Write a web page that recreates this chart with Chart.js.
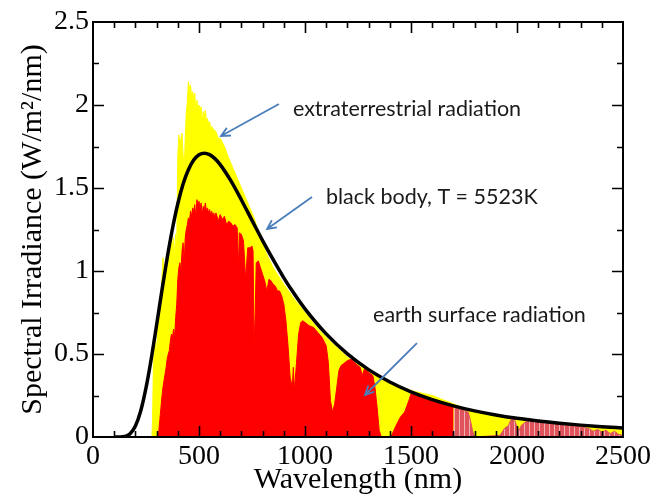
<!DOCTYPE html>
<html><head><meta charset="utf-8">
<script src="https://cdn.jsdelivr.net/npm/chart.js@4/dist/chart.umd.min.js"></script>
<style>html,body{margin:0;padding:0;background:#fff}#wrap{width:658px;height:496px}</style>
</head><body><div id="wrap"><canvas id="c" width="658" height="496"></canvas></div>
<script>
// ---- data ----
const bbWavelength = [100,125,150,175,200,225,250,275,300,325,350,375,400,425,450,475,500,525,550,575,600,650,700,750,800,850,900,950,1000,1100,1200,1300,1400,1500,1600,1700,1800,1900,2000,2100,2200,2300,2400,2500];
const bbIrradiance = [0,0.0003,0.0036,0.0202,0.0667,0.157,0.2955,0.473,0.675,0.882,1.08,1.256,1.405,1.524,1.61,1.668,1.7,1.71,1.701,1.677,1.641,1.544,1.428,1.305,1.183,1.068,0.959,0.861,0.772,0.621,0.501,0.406,0.3315,0.2725,0.2253,0.1877,0.1575,0.1329,0.1129,0.0964,0.0828,0.0715,0.0619,0.054];

const etWavelength = [278,281,285,290,295,300,305,310,315,320,325,330,335,340,345,350,355,360,365,370,375,380,385,390,395,400,405,410,415,420,425,430,435,440,445,450,455,460,465,470,475,480,485,490,495,500,505,510,515,520,525,530,535,540,545,550,555,560,570,580,590,600,620,640,660,680,700,720,740,760,780,800,820,850,880,900,950,1000,1050,1100,1150,1200,1250,1300,1350,1400,1450,1500,1550,1600,1650,1700,1750,1800,1850,1900,1950,2000,2100,2200,2300,2400,2500];
const etIrradiance = [0,0.1,0.45,0.52,0.58,0.5,0.65,0.7,0.78,0.85,0.95,1.08,1.0,1.02,1.0,1.05,1.1,1.05,1.15,1.22,1.15,1.2,1.08,1.22,1.15,1.7,1.82,1.75,1.8,1.83,1.7,1.6,1.8,1.95,2.02,2.14,2.1,2.12,2.05,2.08,2.04,2.07,1.95,2.03,1.98,2.0,1.97,1.99,1.9,1.96,1.93,1.97,1.9,1.92,1.88,1.9,1.86,1.87,1.85,1.84,1.8,1.8,1.75,1.68,1.62,1.56,1.5,1.44,1.38,1.32,1.24,1.16,1.1,1.02,0.96,0.92,0.83,0.75,0.67,0.6,0.54,0.48,0.44,0.4,0.36,0.33,0.3,0.28,0.265,0.25,0.225,0.2,0.175,0.155,0.14,0.13,0.12,0.11,0.093,0.08,0.068,0.058,0.05];

const sfWavelength = [305,310,315,320,325,330,335,340,345,350,355,360,365,370,375,380,385,390,395,400,405,410,415,420,425,430,435,440,445,450,455,460,465,470,475,480,485,490,495,500,505,510,515,520,525,530,535,540,545,550,555,560,565,570,575,580,585,590,595,600,610,620,630,640,650,660,670,680,687,690,700,710,720,725,730,740,750,755,760,765,770,780,790,800,810,820,830,840,850,860,870,880,890,900,910,920,930,940,945,950,960,970,980,990,1000,1020,1040,1060,1080,1100,1110,1120,1130,1140,1150,1160,1170,1180,1200,1220,1240,1260,1270,1280,1300,1320,1330,1340,1350,1360,1405,1430,1450,1470,1490,1500,1520,1550,1600,1650,1700,1720,1750,1770,1780,1790,1800,1920,1940,1960,1970,1980,1990,2000,2010,2020,2040,2060,2080,2100,2150,2200,2250,2300,2340,2360,2380,2400,2420,2440,2460,2480,2500];
const sfIrradiance = [0,0.03,0.1,0.17,0.24,0.3,0.34,0.38,0.42,0.47,0.5,0.52,0.58,0.62,0.6,0.65,0.6,0.72,0.8,0.95,1.02,1.05,1.0,1.12,1.17,1.05,1.2,1.25,1.28,1.32,1.3,1.36,1.33,1.38,1.36,1.4,1.32,1.43,1.4,1.42,1.38,1.41,1.34,1.39,1.37,1.41,1.36,1.38,1.35,1.37,1.34,1.36,1.33,1.35,1.32,1.35,1.33,1.3,1.32,1.34,1.31,1.33,1.28,1.3,1.29,1.27,1.28,1.26,1.02,1.23,1.22,1.18,0.95,1.05,1.14,1.14,1.15,1.12,0.55,0.75,1.05,1.06,1.02,0.98,0.94,0.88,0.95,0.94,0.92,0.91,0.88,0.88,0.85,0.8,0.7,0.55,0.36,0.3,0.42,0.28,0.45,0.62,0.69,0.7,0.69,0.67,0.66,0.63,0.6,0.55,0.45,0.22,0.15,0.2,0.3,0.4,0.43,0.44,0.46,0.47,0.44,0.42,0.37,0.41,0.39,0.37,0.3,0.18,0.04,0,0,0.07,0.12,0.15,0.22,0.26,0.26,0.25,0.23,0.21,0.19,0.17,0.16,0.15,0.1,0.04,0,0.01,0.05,0.07,0.1,0.12,0.1,0.06,0.04,0.07,0.09,0.1,0.1,0.095,0.085,0.08,0.07,0.062,0.05,0.035,0.045,0.03,0.04,0.02,0.035,0.015,0.01];

const xTickValues = [0,500,1000,1500,2000,2500];
const yTickValues = [0,0.5,1,1.5,2,2.5];
const tailStart = 1700;

// ---- annotation config (data coordinates) ----
const notes = [
  {text:'extraterrestrial radiation', x:943, y:1.976, from:[877,2.006], to:[604,1.813]},
  {text:'black body, T = 5523K', x:1099, y:1.446, from:[1033,1.446], to:[821,1.253]},
  {text:'earth surface radiation', x:1321, y:0.735, from:[1528,0.566], to:[1283,0.253]}
];

const toPts = (xs, ys) => xs.map((x,i)=>({x:x, y:ys[i]}));
const sfPts = toPts(sfWavelength, sfIrradiance);
const sfMain = sfPts.filter(p=>p.x<=tailStart);
const sfTail = sfPts.filter(p=>p.x>=tailStart);

const canvas = document.getElementById('c');
const ctx0 = canvas.getContext('2d');
const pc = document.createElement('canvas'); pc.width=5; pc.height=4;
const pg = pc.getContext('2d');
pg.fillStyle='rgb(222,84,90)'; pg.fillRect(0,0,5,4);
pg.fillStyle='rgb(240,175,178)'; pg.fillRect(4,0,1,4);
const stripe = ctx0.createPattern(pc,'repeat');

const framePlugin = {
  id:'frame',
  afterDatasetsDraw(chart){
    const {ctx, chartArea:a, scales:{x, y}} = chart;
    ctx.save();
    ctx.strokeStyle='#000'; ctx.lineWidth=2;
    ctx.strokeRect(a.left, a.top, a.right-a.left, a.bottom-a.top);
    ctx.lineWidth=1.6;
    ctx.beginPath();
    for(let v=100; v<2500; v+=100){
      const px = Math.round(x.getPixelForValue(v))+0.5;
      const L = (v%500===0)?11:6;
      ctx.moveTo(px,a.bottom); ctx.lineTo(px,a.bottom-L);
      ctx.moveTo(px,a.top); ctx.lineTo(px,a.top+L);
    }
    for(let v=0.25; v<2.5; v+=0.25){
      const py = Math.round(y.getPixelForValue(v))+0.5;
      const L = (Math.abs(v*2-Math.round(v*2))<1e-6)?11:6;
      ctx.moveTo(a.left,py); ctx.lineTo(a.left+L,py);
      ctx.moveTo(a.right,py); ctx.lineTo(a.right-L,py);
    }
    ctx.stroke();
    // annotations
    ctx.font = '21.5px Lato';
    ctx.fillStyle = '#1a1a1a';
    ctx.textBaseline = 'middle';
    ctx.textAlign = 'left';
    ctx.strokeStyle = 'rgb(74,126,187)';
    ctx.lineWidth = 1.8;
    for(const n of notes){
      ctx.fillText(n.text, x.getPixelForValue(n.x), y.getPixelForValue(n.y));
      const x1=x.getPixelForValue(n.from[0]), y1=y.getPixelForValue(n.from[1]);
      const x2=x.getPixelForValue(n.to[0]), y2=y.getPixelForValue(n.to[1]);
      const ang=Math.atan2(y2-y1,x2-x1), h=10, sp=0.45;
      ctx.beginPath();
      ctx.moveTo(x1,y1); ctx.lineTo(x2,y2);
      ctx.moveTo(x2-h*Math.cos(ang-sp), y2-h*Math.sin(ang-sp));
      ctx.lineTo(x2,y2);
      ctx.lineTo(x2-h*Math.cos(ang+sp), y2-h*Math.sin(ang+sp));
      ctx.stroke();
    }
    ctx.restore();
  }
};

new Chart(canvas, {
  type:'line',
  data:{datasets:[
    {label:'black body, T = 5523K', data:toPts(bbWavelength,bbIrradiance), borderColor:'#000', borderWidth:3.5, pointRadius:0, fill:false, cubicInterpolationMode:'monotone'},
    {label:'earth surface radiation', data:sfMain, borderColor:'#ff0000', borderWidth:1, backgroundColor:'#ff0000', fill:'origin', pointRadius:0},
    {label:'earth surface radiation (IR)', data:sfTail, borderColor:'rgb(222,84,90)', borderWidth:1, backgroundColor:stripe, fill:'origin', pointRadius:0},
    {label:'extraterrestrial radiation', data:toPts(etWavelength,etIrradiance), borderColor:'#ffff00', borderWidth:1, backgroundColor:'#ffff00', fill:'origin', pointRadius:0}
  ]},
  options:{
    responsive:false, animation:false, devicePixelRatio:1,
    layout:{padding:{left:0,right:35,top:22,bottom:0}},
    plugins:{legend:{display:false}, tooltip:{enabled:false}},
    scales:{
      x:{type:'linear', min:0, max:2500, position:'bottom',
        afterFit:s=>{s.height=59;},
        afterBuildTicks:s=>{s.ticks = xTickValues.map(v=>({value:v}));},
        grid:{display:false, drawTicks:false}, border:{display:false},
        ticks:{color:'#000', font:{family:'Liberation Serif', size:28}, padding:3, maxRotation:0, autoSkip:false, callback:v=>String(v)},
        title:{display:true, text:'Wavelength (nm)', color:'#000', font:{family:'Liberation Serif', size:30, lineHeight:1}, padding:{top:0,bottom:1}}
      },
      y:{type:'linear', min:0, max:2.5,
        afterFit:s=>{s.width=93;},
        afterBuildTicks:s=>{s.ticks = yTickValues.map(v=>({value:v}));},
        grid:{display:false, drawTicks:false}, border:{display:false},
        ticks:{color:'#000', font:{family:'Liberation Serif', size:28}, padding:4, callback:v=>String(v)},
        title:{display:true, text:'Spectral Irradiance (W/m\u00B2/nm)', color:'#000', font:{family:'Liberation Serif', size:30, lineHeight:1.2}, padding:{top:15,bottom:0}}
      }
    }
  },
  plugins:[framePlugin]
});
</script></body></html>
